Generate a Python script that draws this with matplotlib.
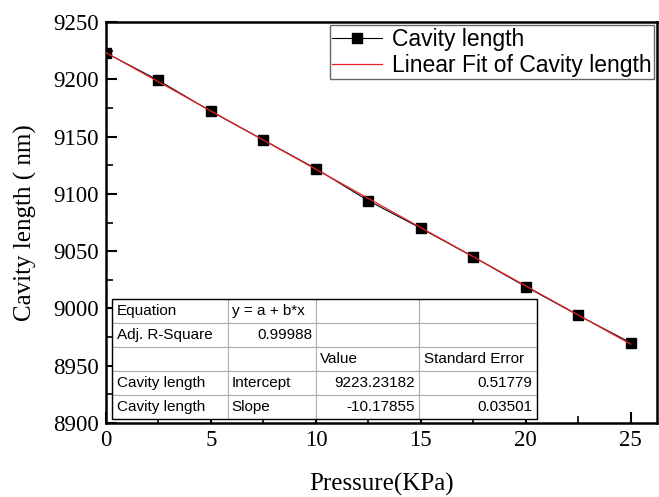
import numpy as np
import matplotlib
matplotlib.use("Agg")
import matplotlib.pyplot as plt
from matplotlib.patches import Rectangle

# data
pressure = [0, 2.5, 5, 7.5, 10, 12.5, 15, 17.5, 20, 22.5, 25]
cavity = [9223, 9199, 9172, 9147, 9122, 9094, 9070, 9045, 9019, 8994, 8970]

intercept = 9223.23182
slope = -10.17855

table_rows = [
    ["Equation", "y = a + b*x", "", ""],
    ["Adj. R-Square", "0.99988", "", ""],
    ["", "", "Value", "Standard Error"],
    ["Cavity length", "Intercept", "9223.23182", "0.51779"],
    ["Cavity length", "Slope", "-10.17855", "0.03501"],
]
# alignment per cell
table_align = [
    ["left", "left", "left", "left"],
    ["left", "right", "left", "left"],
    ["left", "left", "left", "left"],
    ["left", "left", "right", "right"],
    ["left", "left", "right", "right"],
]

fig = plt.figure(figsize=(6.59, 4.97), dpi=100)
ax = fig.add_axes([106 / 659, 1 - 423 / 497, 551 / 659, 401 / 497])

ax.plot(pressure, cavity, color="black", lw=0.8, marker="s", ms=7,
        label="Cavity length", zorder=3)
xs = np.array([pressure[0], pressure[-1]])
ax.plot(xs, intercept + slope * xs, color="#e8222a", lw=0.9,
        label="Linear Fit of Cavity length", zorder=4)

ax.set_xlim(0, 26.25)
ax.set_ylim(8900, 9250)
ax.set_xticks([0, 5, 10, 15, 20, 25])
ax.set_xticks(np.arange(2.5, 26, 5), minor=True)
ax.set_yticks(np.arange(8900, 9251, 50))
ax.set_yticks(np.arange(8925, 9250, 50), minor=True)
ax.tick_params(which="major", direction="in", length=8, width=1.5,
               labelsize=16.5, pad=5)
ax.tick_params(which="minor", direction="in", length=5, width=1.2)
for lab in ax.get_xticklabels() + ax.get_yticklabels():
    lab.set_fontfamily("Liberation Serif")
for s in ax.spines.values():
    s.set_linewidth(1.8)

ax.set_xlabel("Pressure(KPa)", fontsize=18, family="Liberation Serif",
              labelpad=16)
ax.set_ylabel("Cavity length ( nm)", fontsize=18, family="Liberation Serif",
              labelpad=12)

leg = ax.legend(loc="upper right", bbox_to_anchor=(1.0, 1.0),
                prop={"family": "Liberation Sans", "size": 16.5},
                frameon=True, fancybox=False, borderpad=0.1,
                handlelength=2.2, handletextpad=0.4, labelspacing=0.15,
                borderaxespad=0.15)
leg.get_frame().set_edgecolor("#404040")
leg.get_frame().set_linewidth(1.0)

tb = ax.table(cellText=table_rows,
              colWidths=[116, 88, 103, 118],
              bbox=[(112 - 106) / 551, (423 - 419) / 401, 425 / 551, 120 / 401],
              zorder=5)
tb.auto_set_font_size(False)
for (r, c), cell in tb.get_celld().items():
    cell.set_edgecolor("#b0b0b0")
    cell.set_linewidth(0.8)
    cell.set_facecolor("white")
    t = cell.get_text()
    t.set_fontsize(11)
    t.set_fontfamily("Liberation Sans")
    t.set_horizontalalignment(table_align[r][c])
    cell.PAD = 0.04
# black outer border of the table
ax.add_patch(Rectangle(((112 - 106) / 551, 4 / 401), 425 / 551, 120 / 401,
                       transform=ax.transAxes, fill=False, ec="black",
                       lw=1.0, zorder=6))

fig.savefig("out.png", dpi=100)
